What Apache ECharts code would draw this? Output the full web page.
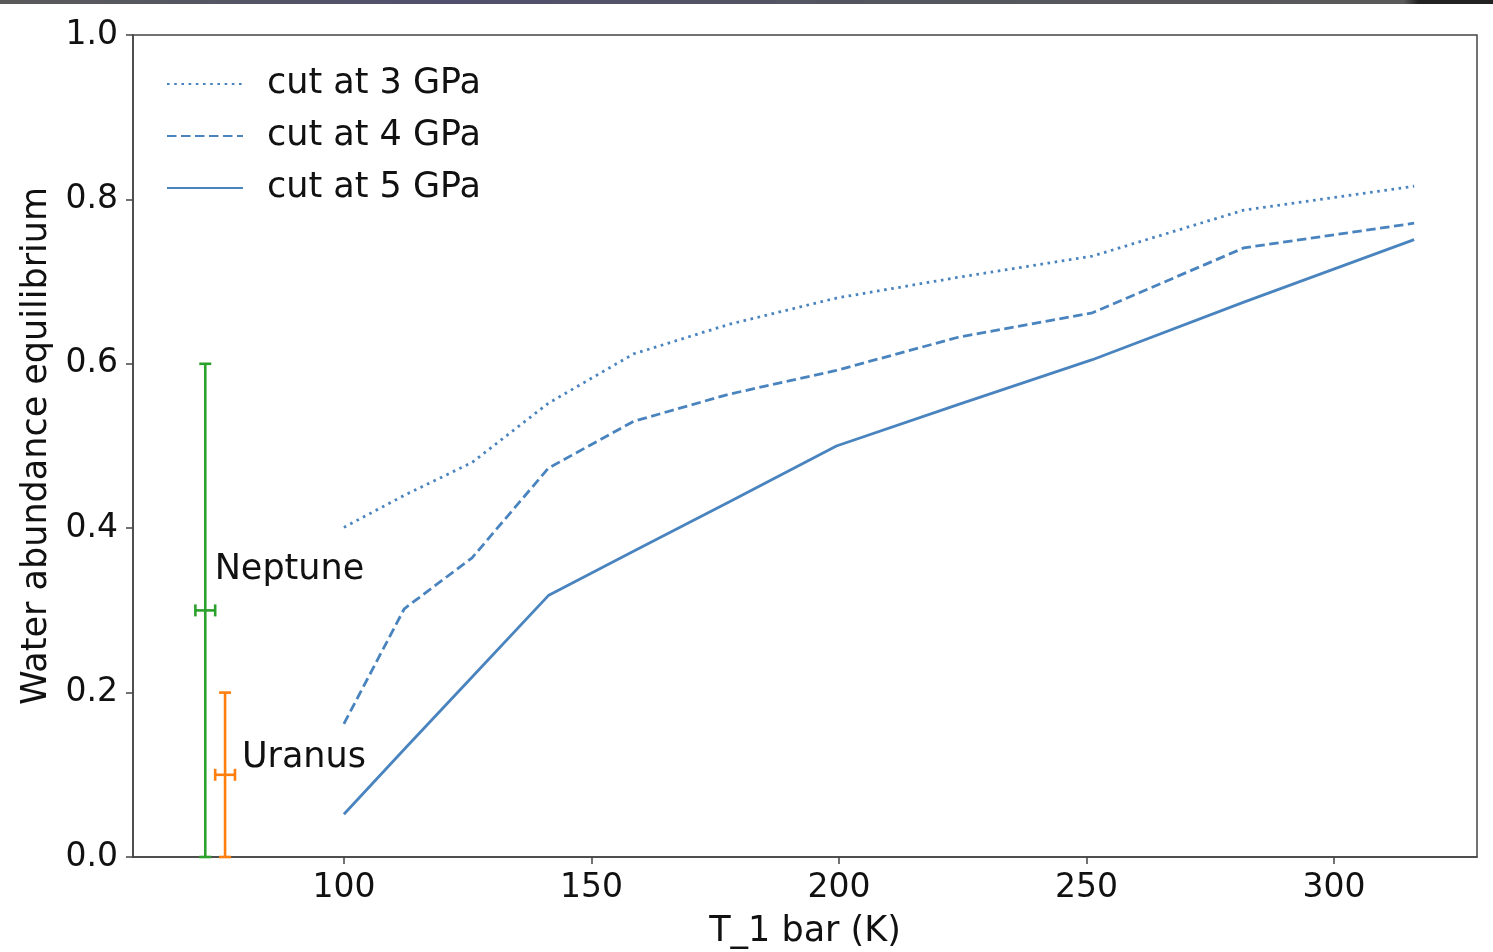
<!DOCTYPE html>
<html>
<head>
<meta charset="utf-8">
<script src="https://cdn.jsdelivr.net/npm/echarts@6/dist/echarts.min.js"></script>
<style>
html,body{margin:0;padding:0;background:#fff;}
#c{width:1493px;height:952px;}
</style>
</head>
<body>
<div id="c"></div>
<script>
// ---- data ----
const temps = [100, 112.2, 125.9, 141.3, 158.5, 177.8, 199.5, 223.9, 251.2, 281.8, 316.2];
const cut3 = [0.401, 0.440, 0.480, 0.552, 0.612, 0.648, 0.680, 0.705, 0.731, 0.787, 0.816];
const cut4 = [0.162, 0.302, 0.364, 0.473, 0.530, 0.563, 0.592, 0.632, 0.662, 0.741, 0.771];
const cut5 = [0.052, 0.131, 0.219, 0.318, 0.372, 0.432, 0.500, 0.550, 0.605, 0.675, 0.751];
const seriesNames = ['cut at 3 GPa', 'cut at 4 GPa', 'cut at 5 GPa'];
const planetNames = ['Neptune', 'Uranus'];
const planetT = [72, 76];
const planetTerr = [2, 2];
const planetW = [0.3, 0.1];
const planetWerr = [0.3, 0.1];
const planetLabelPos = [[73.9, 0.349], [79.4, 0.12]];
const xTicks = [100, 150, 200, 250, 300];
const yTicks = [0, 0.2, 0.4, 0.6, 0.8, 1.0];

const FONT = 'DejaVu Sans';
const lineColor = '#4a84bf';
const planetColors = ['#2ca02c', '#ff7f0e'];

const chart = echarts.init(document.getElementById('c'), null, {renderer: 'canvas'});

function toPairs(xs, ys) { return xs.map((x, i) => [x, ys[i]]); }

const errData = planetNames.map((n, i) => [planetT[i], planetW[i], planetTerr[i], planetWerr[i], i]);

const option = {
  animation: false,
  backgroundColor: '#ffffff',
  graphic: [{
    type: 'rect', left: 0, top: 0, z: 100,
    shape: {width: 1493, height: 4},
    style: {fill: new echarts.graphic.LinearGradient(0, 0, 1, 0, [
      {offset: 0, color: '#5a5a5a'}, {offset: 0.3, color: '#50506e'},
      {offset: 0.6, color: '#55555f'}, {offset: 0.94, color: '#5a5a5a'},
      {offset: 0.95, color: '#222222'}, {offset: 1, color: '#222222'}])}
  }],
  grid: {left: 133, right: 16, top: 35, bottom: 95, show: true, borderColor: '#444', borderWidth: 1.5,
         backgroundColor: 'transparent', containLabel: false, outerBoundsMode: 'none'},
  legend: {
    orient: 'vertical', left: 161, top: 59,
    itemWidth: 76, itemHeight: 14, itemGap: 12,
    data: seriesNames,
    itemStyle: {opacity: 0},
    textStyle: {fontFamily: FONT, fontSize: 35, color: '#111', lineHeight: 40, padding: [0, 0, 0, 19]}
  },
  xAxis: {
    type: 'value', min: 57.4, max: 328.9,
    name: 'T_1 bar (K)', nameLocation: 'middle', nameGap: 57,
    nameTextStyle: {fontFamily: FONT, fontSize: 35, color: '#111'},
    axisLine: {show: true, lineStyle: {color: '#444', width: 1.5}},
    axisTick: {show: true, length: 7, lineStyle: {color: '#444', width: 1.5}, customValues: xTicks},
    axisLabel: {fontFamily: FONT, fontSize: 33, color: '#111', margin: 15, customValues: xTicks, formatter: v => String(Math.round(v))},
    splitLine: {show: false}
  },
  yAxis: {
    type: 'value', min: 0, max: 1, interval: 0.2,
    name: 'Water abundance equilibrium', nameLocation: 'middle', nameGap: 76,
    nameTextStyle: {fontFamily: FONT, fontSize: 35, color: '#111'},
    axisLine: {show: true, lineStyle: {color: '#444', width: 1.5}},
    axisTick: {show: true, length: 7, lineStyle: {color: '#444', width: 1.5}, customValues: yTicks},
    axisLabel: {fontFamily: FONT, fontSize: 33, color: '#111', margin: 15, customValues: yTicks, formatter: v => v.toFixed(1)},
    splitLine: {show: false}
  },
  series: [
    {name: seriesNames[0], type: 'line', data: toPairs(temps, cut3), symbol: 'none', color: lineColor,
     lineStyle: {color: lineColor, width: 2.8, type: [2.6, 4.6], cap: 'butt'}},
    {name: seriesNames[1], type: 'line', data: toPairs(temps, cut4), symbol: 'none', color: lineColor,
     lineStyle: {color: lineColor, width: 2.8, type: [9.5, 4.5]}},
    {name: seriesNames[2], type: 'line', data: toPairs(temps, cut5), symbol: 'none', color: lineColor,
     lineStyle: {color: lineColor, width: 2.8, type: 'solid'}},
    {
      type: 'custom', name: 'err', data: errData, clip: false, z: 3,
      renderItem: function (params, api) {
        const x = api.value(0), y = api.value(1), xe = api.value(2), ye = api.value(3), idx = api.value(4);
        const col = planetColors[idx];
        const top = api.coord([x, y + ye]);
        const bot = api.coord([x, y - ye]);
        const l = api.coord([x - xe, y]);
        const r = api.coord([x + xe, y]);
        const cap = 6;
        const st = {stroke: col, lineWidth: 2.6};
        return {
          type: 'group',
          children: [
            {type: 'line', shape: {x1: top[0], y1: top[1], x2: bot[0], y2: bot[1]}, style: st},
            {type: 'line', shape: {x1: top[0] - cap, y1: top[1], x2: top[0] + cap, y2: top[1]}, style: st},
            {type: 'line', shape: {x1: bot[0] - cap, y1: bot[1], x2: bot[0] + cap, y2: bot[1]}, style: st},
            {type: 'line', shape: {x1: l[0], y1: l[1], x2: r[0], y2: r[1]}, style: st},
            {type: 'line', shape: {x1: l[0], y1: l[1] - cap, x2: l[0], y2: l[1] + cap}, style: st},
            {type: 'line', shape: {x1: r[0], y1: r[1] - cap, x2: r[0], y2: r[1] + cap}, style: st}
          ]
        };
      }
    },
    {
      type: 'scatter', name: 'labels', symbolSize: 0, silent: true,
      itemStyle: {opacity: 1},
      data: planetNames.map((n, i) => ({name: n, value: planetLabelPos[i]})),
      label: {show: true, position: [0, 0], align: 'left', verticalAlign: 'middle', opacity: 1,
        formatter: p => p.name, fontFamily: FONT, fontSize: 35, color: '#111'}
    }
  ]
};
chart.setOption(option);
</script>
</body>
</html>
